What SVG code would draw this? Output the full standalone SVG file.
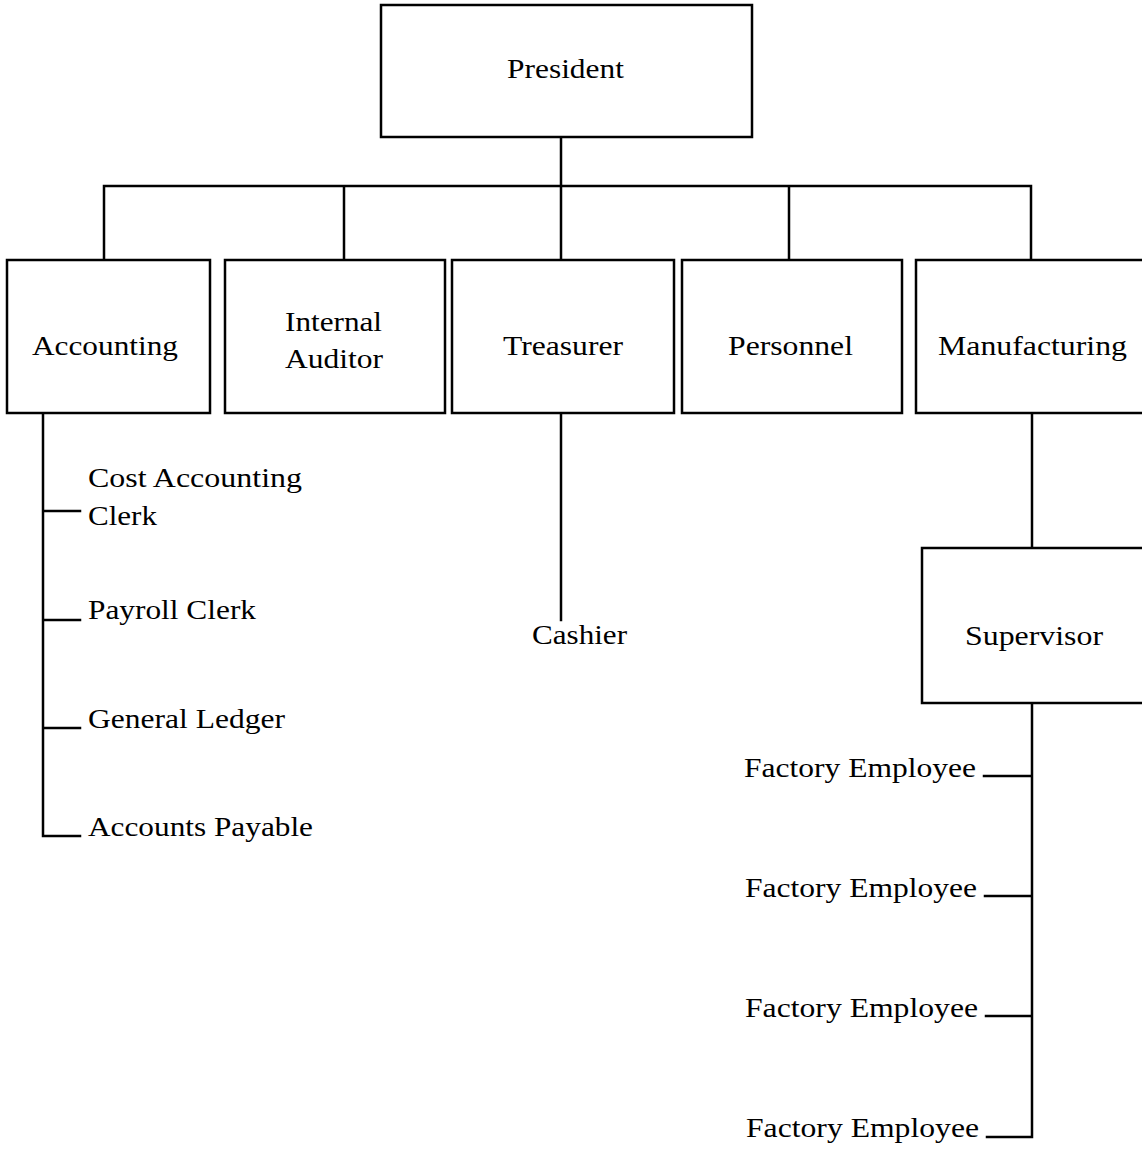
<svg xmlns="http://www.w3.org/2000/svg" width="1142" height="1150" viewBox="0 0 1142 1150">
<style>
.box{fill:#fff;stroke:#000;stroke-width:2.5}
.ln{fill:none;stroke:#000;stroke-width:2.5;stroke-linecap:square}
text{font-family:"Liberation Serif","Times New Roman",serif;font-size:27.5px;fill:#000}
</style>
<rect width="1142" height="1150" fill="#fff"/>
<g id="connectors">
<path class="ln" d="M561,137 V186 M104,260 V186 H1031 V260 M344,186 V260 M789,186 V260 M561,186 V260"/>
<path class="ln" d="M43,413 V836 H80 M43,511 H80 M43,620 H80 M43,728 H80"/>
<path class="ln" d="M561,413 V620"/>
<path class="ln" d="M1032,413 V548"/>
<path class="ln" d="M1032,703 V1137 H987 M984,776 H1032 M985,896 H1032 M986,1016 H1032"/>
</g>
<g id="president"><rect class="box" x="381" y="5" width="371" height="132"/><text x="507" y="78" textLength="117" lengthAdjust="spacingAndGlyphs">President</text></g>
<g id="accounting"><rect class="box" x="7" y="260" width="203" height="153"/><text x="32" y="355" textLength="146" lengthAdjust="spacingAndGlyphs">Accounting</text></g>
<g id="internal-auditor"><rect class="box" x="225" y="260" width="220" height="153"/><text x="285" y="331" textLength="97" lengthAdjust="spacingAndGlyphs">Internal</text><text x="285" y="368" textLength="98" lengthAdjust="spacingAndGlyphs">Auditor</text></g>
<g id="treasurer"><rect class="box" x="452" y="260" width="222" height="153"/><text x="503" y="355" textLength="120" lengthAdjust="spacingAndGlyphs">Treasurer</text></g>
<g id="personnel"><rect class="box" x="682" y="260" width="220" height="153"/><text x="728" y="355" textLength="125" lengthAdjust="spacingAndGlyphs">Personnel</text></g>
<g id="manufacturing"><rect class="box" x="916" y="260" width="240" height="153"/><text x="938" y="355" textLength="189" lengthAdjust="spacingAndGlyphs">Manufacturing</text></g>
<g id="supervisor"><rect class="box" x="922" y="548" width="240" height="155"/><text x="965" y="645" textLength="138" lengthAdjust="spacingAndGlyphs">Supervisor</text></g>
<g id="cashier"><text x="532" y="644" textLength="95" lengthAdjust="spacingAndGlyphs">Cashier</text></g>
<g id="cost-accounting-clerk"><text x="88" y="487" textLength="214" lengthAdjust="spacingAndGlyphs">Cost Accounting</text><text x="88" y="525" textLength="69" lengthAdjust="spacingAndGlyphs">Clerk</text></g>
<g id="payroll-clerk"><text x="88" y="619" textLength="168" lengthAdjust="spacingAndGlyphs">Payroll Clerk</text></g>
<g id="general-ledger"><text x="88" y="728" textLength="197" lengthAdjust="spacingAndGlyphs">General Ledger</text></g>
<g id="accounts-payable"><text x="88" y="836" textLength="225" lengthAdjust="spacingAndGlyphs">Accounts Payable</text></g>
<g id="factory-employee-1"><text x="744" y="777" textLength="232" lengthAdjust="spacingAndGlyphs">Factory Employee</text></g>
<g id="factory-employee-2"><text x="745" y="897" textLength="232" lengthAdjust="spacingAndGlyphs">Factory Employee</text></g>
<g id="factory-employee-3"><text x="745" y="1017" textLength="233" lengthAdjust="spacingAndGlyphs">Factory Employee</text></g>
<g id="factory-employee-4"><text x="746" y="1137" textLength="233" lengthAdjust="spacingAndGlyphs">Factory Employee</text></g>
</svg>
